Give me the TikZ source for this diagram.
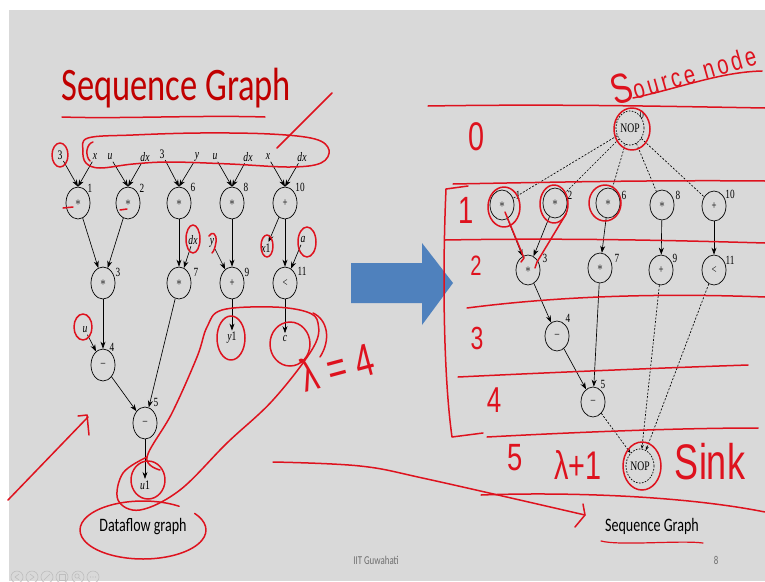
\documentclass[tikz,border=0pt]{standalone}
\usepackage{fontspec}
\usepackage{graphicx}
\usetikzlibrary{arrows.meta,shapes.geometric,calc}
% fonts: the slide is shown horizontally compressed, so every family is narrowed
\newfontfamily\gserif{Liberation Serif}[FakeStretch=0.74]
\newfontfamily\slidefont{Carlito}[FakeStretch=0.74]
\newfontfamily\handfont{Liberation Sans}[FakeStretch=0.72]
\newfontfamily\handwide{Liberation Sans}[FakeStretch=0.75, LetterSpace=12]
\definecolor{slidebg}{RGB}{217,217,217}
\definecolor{titlered}{RGB}{192,0,0}
\definecolor{ink}{RGB}{222,18,30}
\definecolor{arrowblue}{RGB}{79,129,189}
\definecolor{footgray}{RGB}{110,110,110}
\definecolor{icongray}{RGB}{190,190,190}
\begin{document}
\begin{tikzpicture}[x=1pt,y=-1pt,
  op/.style={ellipse, draw, line width=0.7pt, minimum width=24pt, minimum height=32pt,
             inner sep=0pt, font=\gserif\fontsize{12}{12}\selectfont},
  opr/.style={op, minimum height=30pt},
  nop/.style={ellipse, draw, line width=0.7pt, dash pattern=on 1.6pt off 1.4pt,
              minimum width=28pt, minimum height=34pt, inner sep=0pt,
              font=\gserif\fontsize{13}{13}\selectfont},
  num/.style={inner sep=0pt, font=\gserif\fontsize{12.5}{12.5}\selectfont},
  var/.style={inner sep=1.5pt, font=\gserif\itshape\fontsize{13}{13}\selectfont},
  cst/.style={inner sep=1.5pt, font=\gserif\fontsize{13}{13}\selectfont},
  arr/.style={line width=0.65pt, -{Stealth[length=7pt,width=5pt]}},
  dsh/.style={line width=0.65pt, dash pattern=on 2pt off 1.6pt},
  dsharr/.style={dsh, -{Stealth[length=4pt,width=3pt]}},
  hand/.style={draw=ink, line width=1.5pt, line cap=round, line join=round},
  htext/.style={text=ink, inner sep=0pt},
]
\useasboundingbox (0,0) rectangle (765,581);
\clip (0,0) rectangle (765,581);
\fill[white] (0,0) rectangle (765,581);
\fill[slidebg] (9,10) rectangle (765,581);

% ---------- slide title ----------
\node[anchor=base west, inner sep=0pt, text=titlered,
      font=\slidefont\fontsize{46.6}{50}\selectfont] (title) at (61,100) {Sequence Graph};

% ---------- block arrow between the two graphs ----------
\fill[arrowblue] (351,263) -- (422,263) -- (422,243) -- (453,283) -- (422,325)
                 -- (422,303) -- (351,303) -- cycle;

% ---------- dataflow graph ----------
\node[op] (L1)  at (78,203)  {$\ast$};
\node[op] (L2)  at (128,203) {$\ast$};
\node[op] (L6)  at (179,203) {$\ast$};
\node[op] (L8)  at (232,203) {$\ast$};
\node[op] (L10) at (285,203) {+};
\node[op] (L3)  at (103,283) {$\ast$};
\node[op] (L7)  at (179,283) {$\ast$};
\node[op] (L9)  at (232,283) {+};
\node[op] (L11) at (285,283) {<};
\node[op] (L4)  at (103,365) {–};
\node[op] (L5)  at (145,423) {–};

\node[num] (L1n)  at (90,188)  {1};
\node[num] (L2n)  at (142,188) {2};
\node[num] (L6n)  at (193,187) {6};
\node[num] (L8n)  at (246,187) {8};
\node[num] (L10n) at (300,187) {10};
\node[num] (L3n)  at (118,272) {3};
\node[num] (L7n)  at (196,272) {7};
\node[num] (L9n)  at (247,272) {9};
\node[num] (L11n) at (302,271) {11};
\node[num] (L4n)  at (112,347) {4};
\node[num] (L5n)  at (156,402) {5};

% inputs and outputs
\node[cst] (i3a) at (60,155)  {3};
\node[var] (ix)  at (95,157)  {x};
\node[var] (iu)  at (110,157) {u};
\node[var] (idx) at (145,157) {dx};
\node[cst] (i3b) at (162,154) {3};
\node[var] (iy)  at (197,157) {y};
\node[var] (iu2) at (215,157) {u};
\node[var] (idx2) at (248,157) {dx};
\node[var] (ix2) at (268,157) {x};
\node[var] (idx3) at (302,157) {dx};
\node[var] (idx4) at (193,240) {dx};
\node[var] (iy2) at (212,243) {y};
\node[var] (ox1) at (266,248) {x\upshape 1};
\node[var] (ia)  at (303,240) {a};
\node[var] (iu3) at (85,330)  {u};
\node[var] (oy1) at (232,338) {y\upshape 1};
\node[var] (oc)  at (285,338) {c};
\node[var] (ou1) at (145,485) {u\upshape 1};

\draw[arr] (i3a) -- (L1.north);
\draw[arr] (ix) -- (L1.north);
\draw[arr] (iu) -- (L2.north);
\draw[arr] (idx) -- (L2.north);
\draw[arr] (i3b) -- (L6.north);
\draw[arr] (iy) -- (L6.north);
\draw[arr] (iu2) -- (L8.north);
\draw[arr] (idx2) -- (L8.north);
\draw[arr] (ix2) -- (L10.north);
\draw[arr] (idx3) -- (L10.north);
\draw[arr] (L1) -- (L3);
\draw[arr] (L2) -- (L3);
\draw[arr] (L6) -- (L7);
\draw[arr] (idx4) -- (L7);
\draw[arr] (L8) -- (L9);
\draw[arr] (iy2) -- (L9);
\draw[arr] (L10) -- (ox1);
\draw[arr] (L10) -- (L11);
\draw[arr] (ia) -- (L11);
\draw[arr] (L3) -- (L4);
\draw[arr] (iu3) -- (L4);
\draw[arr] (L4) -- (L5);
\draw[arr] (L7) -- (L5);
\draw[arr] (L9) -- (oy1);
\draw[arr] (L11) -- (oc);
\draw[arr] (L5) -- (ou1);

\node[font=\slidefont\fontsize{19}{19}\selectfont, inner sep=0pt] (dfg) at (143,527) {Dataflow graph};

% ---------- sequence graph ----------
\node[nop] (S) at (630,128) {NOP};
\node[num, font=\gserif\fontsize{11}{11}\selectfont] (Sn) at (642,115) {0};
\node[opr] (R1)  at (502,205) {$\ast$};
\node[opr] (R2)  at (555,203) {$\ast$};
\node[opr] (R6)  at (608,203) {$\ast$};
\node[opr] (R8)  at (662,205) {$\ast$};
\node[opr] (R10) at (714,206) {+};
\node[opr] (R3)  at (528,270) {$\ast$};
\node[opr] (R7)  at (600,268) {$\ast$};
\node[opr] (R9)  at (661,270) {+};
\node[opr] (R11) at (714,270) {<};
\node[opr] (R4)  at (557,336) {–};
\node[opr] (R5)  at (593,402) {–};
\node[nop] (T) at (640,466) {NOP};

\node[num] (R1n)  at (518,195) {1};
\node[num] (R2n)  at (570,195) {2};
\node[num] (R6n)  at (624,195) {6};
\node[num] (R8n)  at (678,195) {8};
\node[num] (R10n) at (730,194) {10};
\node[num] (R3n)  at (545,258) {3};
\node[num] (R7n)  at (617,258) {7};
\node[num] (R9n)  at (675,258) {9};
\node[num] (R11n) at (730,260) {11};
\node[num] (R4n)  at (568,318) {4};
\node[num] (R5n)  at (603,384) {5};

\draw[dsh] (S) -- (R1);
\draw[dsh] (S) -- (R2);
\draw[dsh] (S) -- (R6);
\draw[dsh] (S) -- (R8);
\draw[dsh] (S) -- (R10);
\draw[arr] (R1) -- (R3);
\draw[arr] (R2) -- (R3);
\draw[arr] (R3) -- (R4);
\draw[arr] (R4) -- (R5);
\draw[arr] (R6) -- (R7);
\draw[arr] (R7) -- (R5);
\draw[arr] (R8) -- (R9);
\draw[arr] (R10) -- (R11);
\draw[dsharr] (R5) -- (T);
\draw[dsharr] (R9) -- (T);
\draw[dsharr] (R11) -- (T);

\node[font=\slidefont\fontsize{19}{19}\selectfont, inner sep=0pt] (sg) at (652,526) {Sequence Graph};

% ---------- footer ----------
\node[font=\slidefont\fontsize{12}{12}\selectfont, text=footgray, inner sep=0pt] (foot) at (376,560) {IIT Guwahati};
\node[font=\slidefont\fontsize{12}{12}\selectfont, text=footgray, inner sep=0pt] (page) at (716,560) {8};
\begin{scope}[draw=icongray, line width=0.6pt]
  \foreach \cx in {17,32,47,62,78,93} \draw (\cx,577) circle [radius=6];
  \draw (19,574) -- (15,577) -- (19,580);
  \draw (30,574) -- (34,577) -- (30,580);
  \draw (44,580) -- (50,574);
  \draw (59,574) rectangle (65,580);
  \draw (77,576) circle [radius=2.2] (78.6,577.6) -- (80.5,579.5);
  \foreach \dx in {-2.5,0,2.5} \fill[icongray] (93+\dx,577) circle [radius=0.6];
\end{scope}

% ---------- ink annotations: left ----------
\draw[hand] (62,117) .. controls (120,119) and (200,115) .. (265,117);
\draw[hand] (60,155) ellipse [x radius=8, y radius=12];
\draw[hand] (63,208) -- (73,207);
\draw[hand] (120,210) -- (127,209);
\draw[hand] plot[smooth cycle, tension=0.6] coordinates {(83,151) (88,138) (133,135) (200,133)
  (270,134) (315,139) (329,150) (321,163) (290,167) (230,164) (170,162) (133,164) (100,168) (86,163)};
\draw[hand] (93,142) .. controls (86,144) and (85,156) .. (90,161);
\draw[hand] (277,148) -- (332,93);
\draw[hand] (193,239) ellipse [x radius=7, y radius=14];
\draw[hand] (209,236) .. controls (212,231) and (217,233) .. (216,242) .. controls (215,248) and (214,251) .. (212,253);
\draw[hand] (267,246) ellipse [x radius=6, y radius=11];
\draw[hand] (307,242) ellipse [x radius=9, y radius=15];
\draw[hand] (83,327) ellipse [x radius=9, y radius=13];
\draw[hand] (231,338) ellipse [x radius=14, y radius=22];
\draw[hand] (290,344) ellipse [x radius=20, y radius=22];
\draw[hand] plot[smooth, tension=0.6] coordinates {(160,470) (147,457) (172,413) (197,357) (207,327)
  (222,310) (273,307) (307,312) (318,323) (313,348) (273,400) (227,443) (180,490) (140,510)
  (118,500) (123,473) (147,457)};
\draw[hand] (313,313) .. controls (328,320) and (331,340) .. (320,357);
\draw[hand] (148,480) ellipse [x radius=17, y radius=19];
\draw[hand] plot[smooth, domain=55:395, samples=50, variable=\t] ({143+63*cos(\t)},{530-29*sin(\t)});
\draw[hand] (8,500) -- (88,417);
\draw[hand] (78,416) -- (87,415) -- (89,435);
\node[htext, rotate=15, font=\handfont\fontsize{46}{46}\selectfont] (lam) at (337,367) {λ\hspace{10pt}=\hspace{10pt}4};
\draw[hand] plot[smooth, tension=0.6] coordinates {(273,462) (360,466) (427,479) (585,515)};
\draw[hand] (583,504) -- (585,515) -- (575,527);

% ---------- ink annotations: right ----------
\node[htext, rotate=16, font=\handwide\fontsize{27}{27}\selectfont] (srcnote) at (683,71)
  {{\fontsize{42}{42}\selectfont S}ource node};
\draw[hand] (633,98) .. controls (680,88) and (720,72) .. (762,71);
\draw[hand] (428,106) .. controls (550,104) and (650,106) .. (765,108);
\draw[hand] (453,184) .. controls (560,182) and (660,180) .. (765,181);
\draw[hand] (445,240) .. controls (560,238) and (660,240) .. (765,243);
\draw[hand] (467,308) .. controls (560,296) and (660,293) .. (765,297);
\draw[hand] (458,377) .. controls (560,372) and (660,368) .. (748,365);
\draw[hand] (487,437) .. controls (580,432) and (680,428) .. (758,428);
\draw[hand] (481,495) .. controls (560,492) and (680,495) .. (765,512);
\draw[hand] (468,186) -- (446,189) .. controls (442,280) and (444,380) .. (452,437) -- (483,433);
\node[htext, font=\handfont\fontsize{40}{40}\selectfont] (row0) at (477,137) {0};
\node[htext, font=\handfont\fontsize{38}{38}\selectfont] (row1) at (466,210) {1};
\node[htext, font=\handfont\fontsize{28}{28}\selectfont] (row2) at (476,266) {2};
\node[htext, font=\handfont\fontsize{32}{32}\selectfont] (row3) at (477,338) {3};
\node[htext, font=\handfont\fontsize{36}{36}\selectfont] (row4) at (494,400) {4};
\node[htext, font=\handfont\fontsize{38}{38}\selectfont] (row5) at (515,458) {5};
\node[htext, font=\handfont\fontsize{40}{40}\selectfont] (lam1) at (578,465) {λ+1};
\node[htext, font=\handfont\fontsize{50}{50}\selectfont] (sink) at (710,462) {Sink};
\draw[hand] (504,207) ellipse [x radius=16, y radius=20];
\draw[hand] (554,204) ellipse [x radius=14, y radius=19];
\draw[hand] (605,203) ellipse [x radius=16, y radius=18];
\draw[hand] (632,129) ellipse [x radius=18, y radius=21];
\draw[hand] (642,466) ellipse [x radius=19, y radius=24];
\draw[hand] (505,212) -- (524,258) -- (521,262);
\draw[hand] (566,214) -- (537,262) -- (535,268);
\draw[hand, line width=1.2pt] (601,541) .. controls (620,546) and (680,540) .. (703,543);
\end{tikzpicture}
\end{document}
